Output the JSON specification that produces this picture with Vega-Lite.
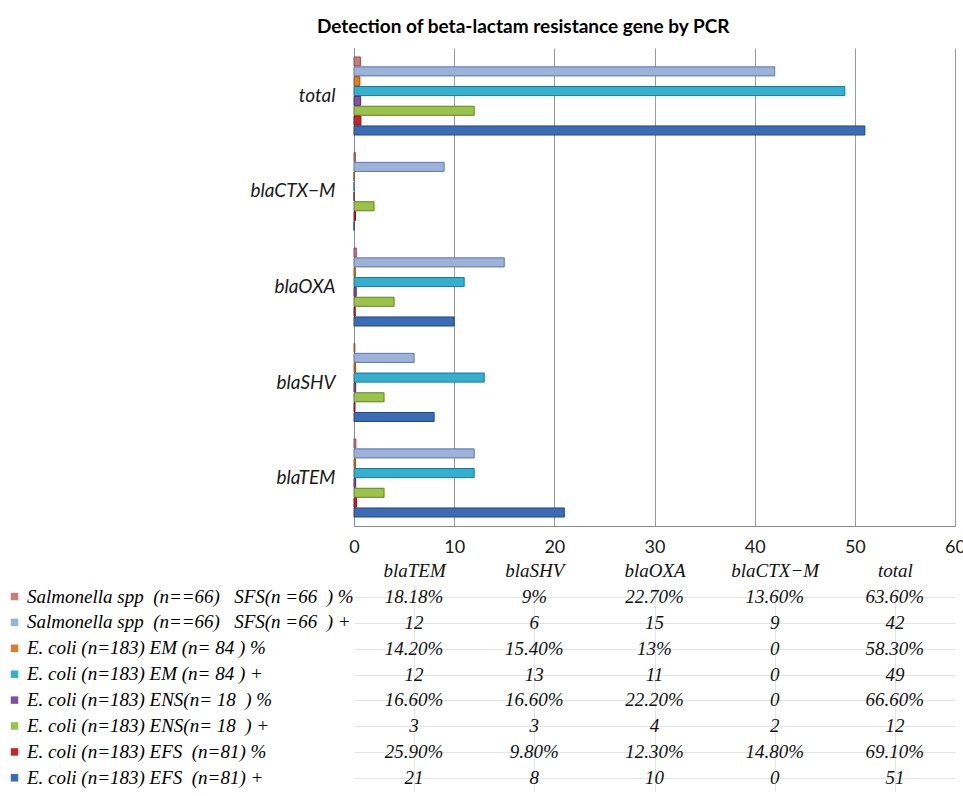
{
  "$schema": "https://vega.github.io/schema/vega-lite/v6.json",
  "padding": {"left": 5, "top": 18, "right": 5, "bottom": 2},
  "background": "white",
  "title": {"text": "Detection of  beta-lactam  resistance gene  by PCR", "font": "Lato", "fontSize": 19, "fontWeight": "bold", "color": "#000", "anchor": "middle", "frame": "bounds", "dx": 38, "offset": 11},
  "datasets": {
    "d": [
      {"gene": "blaTEM", "series": "Salmonella spp\u00a0 (n==66)\u00a0\u00a0 SFS(n =66\u00a0 ) %", "value": 0.1818, "label": "18.18%"},
      {"gene": "blaTEM", "series": "Salmonella spp\u00a0 (n==66)\u00a0\u00a0 SFS(n =66\u00a0 ) +", "value": 12, "label": "12"},
      {"gene": "blaTEM", "series": "E. coli (n=183) EM (n= 84 ) %", "value": 0.142, "label": "14.20%"},
      {"gene": "blaTEM", "series": "E. coli (n=183) EM (n= 84 ) +", "value": 12, "label": "12"},
      {"gene": "blaTEM", "series": "E. coli (n=183) ENS(n= 18\u00a0 ) %", "value": 0.166, "label": "16.60%"},
      {"gene": "blaTEM", "series": "E. coli (n=183) ENS(n= 18\u00a0 ) +", "value": 3, "label": "3"},
      {"gene": "blaTEM", "series": "E. coli (n=183) EFS\u00a0 (n=81) %", "value": 0.259, "label": "25.90%"},
      {"gene": "blaTEM", "series": "E. coli (n=183) EFS\u00a0 (n=81) +", "value": 21, "label": "21"},
      {"gene": "blaSHV", "series": "Salmonella spp\u00a0 (n==66)\u00a0\u00a0 SFS(n =66\u00a0 ) %", "value": 0.09, "label": "9%"},
      {"gene": "blaSHV", "series": "Salmonella spp\u00a0 (n==66)\u00a0\u00a0 SFS(n =66\u00a0 ) +", "value": 6, "label": "6"},
      {"gene": "blaSHV", "series": "E. coli (n=183) EM (n= 84 ) %", "value": 0.154, "label": "15.40%"},
      {"gene": "blaSHV", "series": "E. coli (n=183) EM (n= 84 ) +", "value": 13, "label": "13"},
      {"gene": "blaSHV", "series": "E. coli (n=183) ENS(n= 18\u00a0 ) %", "value": 0.166, "label": "16.60%"},
      {"gene": "blaSHV", "series": "E. coli (n=183) ENS(n= 18\u00a0 ) +", "value": 3, "label": "3"},
      {"gene": "blaSHV", "series": "E. coli (n=183) EFS\u00a0 (n=81) %", "value": 0.098, "label": "9.80%"},
      {"gene": "blaSHV", "series": "E. coli (n=183) EFS\u00a0 (n=81) +", "value": 8, "label": "8"},
      {"gene": "blaOXA", "series": "Salmonella spp\u00a0 (n==66)\u00a0\u00a0 SFS(n =66\u00a0 ) %", "value": 0.227, "label": "22.70%"},
      {"gene": "blaOXA", "series": "Salmonella spp\u00a0 (n==66)\u00a0\u00a0 SFS(n =66\u00a0 ) +", "value": 15, "label": "15"},
      {"gene": "blaOXA", "series": "E. coli (n=183) EM (n= 84 ) %", "value": 0.13, "label": "13%"},
      {"gene": "blaOXA", "series": "E. coli (n=183) EM (n= 84 ) +", "value": 11, "label": "11"},
      {"gene": "blaOXA", "series": "E. coli (n=183) ENS(n= 18\u00a0 ) %", "value": 0.222, "label": "22.20%"},
      {"gene": "blaOXA", "series": "E. coli (n=183) ENS(n= 18\u00a0 ) +", "value": 4, "label": "4"},
      {"gene": "blaOXA", "series": "E. coli (n=183) EFS\u00a0 (n=81) %", "value": 0.123, "label": "12.30%"},
      {"gene": "blaOXA", "series": "E. coli (n=183) EFS\u00a0 (n=81) +", "value": 10, "label": "10"},
      {"gene": "blaCTX−M", "series": "Salmonella spp\u00a0 (n==66)\u00a0\u00a0 SFS(n =66\u00a0 ) %", "value": 0.136, "label": "13.60%"},
      {"gene": "blaCTX−M", "series": "Salmonella spp\u00a0 (n==66)\u00a0\u00a0 SFS(n =66\u00a0 ) +", "value": 9, "label": "9"},
      {"gene": "blaCTX−M", "series": "E. coli (n=183) EM (n= 84 ) %", "value": 0, "label": "0"},
      {"gene": "blaCTX−M", "series": "E. coli (n=183) EM (n= 84 ) +", "value": 0, "label": "0"},
      {"gene": "blaCTX−M", "series": "E. coli (n=183) ENS(n= 18\u00a0 ) %", "value": 0, "label": "0"},
      {"gene": "blaCTX−M", "series": "E. coli (n=183) ENS(n= 18\u00a0 ) +", "value": 2, "label": "2"},
      {"gene": "blaCTX−M", "series": "E. coli (n=183) EFS\u00a0 (n=81) %", "value": 0.148, "label": "14.80%"},
      {"gene": "blaCTX−M", "series": "E. coli (n=183) EFS\u00a0 (n=81) +", "value": 0, "label": "0"},
      {"gene": "total", "series": "Salmonella spp\u00a0 (n==66)\u00a0\u00a0 SFS(n =66\u00a0 ) %", "value": 0.636, "label": "63.60%"},
      {"gene": "total", "series": "Salmonella spp\u00a0 (n==66)\u00a0\u00a0 SFS(n =66\u00a0 ) +", "value": 42, "label": "42"},
      {"gene": "total", "series": "E. coli (n=183) EM (n= 84 ) %", "value": 0.583, "label": "58.30%"},
      {"gene": "total", "series": "E. coli (n=183) EM (n= 84 ) +", "value": 49, "label": "49"},
      {"gene": "total", "series": "E. coli (n=183) ENS(n= 18\u00a0 ) %", "value": 0.666, "label": "66.60%"},
      {"gene": "total", "series": "E. coli (n=183) ENS(n= 18\u00a0 ) +", "value": 12, "label": "12"},
      {"gene": "total", "series": "E. coli (n=183) EFS\u00a0 (n=81) %", "value": 0.691, "label": "69.10%"},
      {"gene": "total", "series": "E. coli (n=183) EFS\u00a0 (n=81) +", "value": 51, "label": "51"}
    ]
  },
  "data": {"name": "d"},
  "bounds": "flush",
  "spacing": 58,
  "vconcat": [
    {
      "width": 601,
      "height": 478,
      "mark": {"type": "bar", "strokeWidth": 1},
      "encoding": {
        "y": {
          "field": "gene", "type": "nominal",
          "sort": ["total", "blaCTX−M", "blaOXA", "blaSHV", "blaTEM"],
          "scale": {"paddingInner": 0.183, "paddingOuter": 0.094},
          "axis": {"title": null, "ticks": false, "labelFont": "Lato", "labelFontStyle": "italic", "labelFontSize": 19, "labelColor": "#1a1a1a", "labelPadding": 19, "domainColor": "#8c8c8c"}
        },
        "yOffset": {
          "field": "series", "type": "nominal",
          "sort": [
            "Salmonella spp\u00a0 (n==66)\u00a0\u00a0 SFS(n =66\u00a0 ) %",
            "Salmonella spp\u00a0 (n==66)\u00a0\u00a0 SFS(n =66\u00a0 ) +",
            "E. coli (n=183) EM (n= 84 ) %",
            "E. coli (n=183) EM (n= 84 ) +",
            "E. coli (n=183) ENS(n= 18\u00a0 ) %",
            "E. coli (n=183) ENS(n= 18\u00a0 ) +",
            "E. coli (n=183) EFS\u00a0 (n=81) %",
            "E. coli (n=183) EFS\u00a0 (n=81) +"
          ],
          "scale": {"paddingInner": 0.08}
        },
        "x": {
          "field": "value", "type": "quantitative",
          "scale": {"domain": [0, 60], "nice": false},
          "axis": {"title": null, "values": [0, 10, 20, 30, 40, 50, 60], "ticks": false, "grid": true, "gridColor": "#9a9a9a", "gridWidth": 1, "domainColor": "#8c8c8c", "labelFont": "Lato", "labelFontSize": 18, "labelColor": "#1a1a1a", "labelPadding": 12, "labelFlush": false}
        },
        "color": {
          "field": "series", "type": "nominal",
          "scale": {
            "domain": [
              "Salmonella spp\u00a0 (n==66)\u00a0\u00a0 SFS(n =66\u00a0 ) %",
              "Salmonella spp\u00a0 (n==66)\u00a0\u00a0 SFS(n =66\u00a0 ) +",
              "E. coli (n=183) EM (n= 84 ) %",
              "E. coli (n=183) EM (n= 84 ) +",
              "E. coli (n=183) ENS(n= 18\u00a0 ) %",
              "E. coli (n=183) ENS(n= 18\u00a0 ) +",
              "E. coli (n=183) EFS\u00a0 (n=81) %",
              "E. coli (n=183) EFS\u00a0 (n=81) +"
            ],
            "range": ["#c97b7d", "#9cb2da", "#e07b28", "#33b0d0", "#7d52a3", "#9bc24a", "#c3262a", "#3a6db5"]
          },
          "legend": {"orient": "none", "legendX": -349, "legendY": 539, "direction": "vertical", "title": null, "symbolType": "square", "symbolSize": 56, "symbolStrokeWidth": 0, "labelFont": "Liberation Serif", "labelFontStyle": "italic", "labelFontSize": 19, "labelColor": "#000", "labelLimit": 400, "rowPadding": 5.9, "labelOffset": 3, "padding": 0}
        },
        "stroke": {
          "field": "series", "type": "nominal",
          "scale": {
            "domain": [
              "Salmonella spp\u00a0 (n==66)\u00a0\u00a0 SFS(n =66\u00a0 ) %",
              "Salmonella spp\u00a0 (n==66)\u00a0\u00a0 SFS(n =66\u00a0 ) +",
              "E. coli (n=183) EM (n= 84 ) %",
              "E. coli (n=183) EM (n= 84 ) +",
              "E. coli (n=183) ENS(n= 18\u00a0 ) %",
              "E. coli (n=183) ENS(n= 18\u00a0 ) +",
              "E. coli (n=183) EFS\u00a0 (n=81) %",
              "E. coli (n=183) EFS\u00a0 (n=81) +"
            ],
            "range": ["#8c4b4d", "#5f77a3", "#9a4f10", "#1d7590", "#4f2d70", "#5f8224", "#7f1416", "#24477c"]
          },
          "legend": null
        }
      }
    },
    {
      "width": 601,
      "height": 207,
      "mark": {"type": "text", "font": "Liberation Serif", "fontStyle": "italic", "fontSize": 19, "color": "#111"},
      "encoding": {
        "x": {
          "field": "gene", "type": "nominal",
          "sort": ["blaTEM", "blaSHV", "blaOXA", "blaCTX−M", "total"],
          "scale": {"paddingInner": 0, "paddingOuter": 0},
          "axis": {"orient": "top", "title": null, "ticks": false, "domain": false, "labelFont": "Liberation Serif", "labelFontStyle": "italic", "labelFontSize": 19, "labelColor": "#111", "labelPadding": 4, "labelAngle": 0, "grid": true, "bandPosition": 0, "gridColor": "#e4e4e4"}
        },
        "y": {
          "field": "series", "type": "nominal",
          "sort": [
            "Salmonella spp\u00a0 (n==66)\u00a0\u00a0 SFS(n =66\u00a0 ) %",
            "Salmonella spp\u00a0 (n==66)\u00a0\u00a0 SFS(n =66\u00a0 ) +",
            "E. coli (n=183) EM (n= 84 ) %",
            "E. coli (n=183) EM (n= 84 ) +",
            "E. coli (n=183) ENS(n= 18\u00a0 ) %",
            "E. coli (n=183) ENS(n= 18\u00a0 ) +",
            "E. coli (n=183) EFS\u00a0 (n=81) %",
            "E. coli (n=183) EFS\u00a0 (n=81) +"
          ],
          "scale": {"paddingInner": 0, "paddingOuter": 0},
          "axis": {"title": null, "labels": false, "ticks": false, "domain": false, "grid": true, "bandPosition": 0, "gridColor": "#e4e4e4"}
        },
        "text": {"field": "label"}
      }
    }
  ],
  "config": {"view": {"stroke": null}}
}
